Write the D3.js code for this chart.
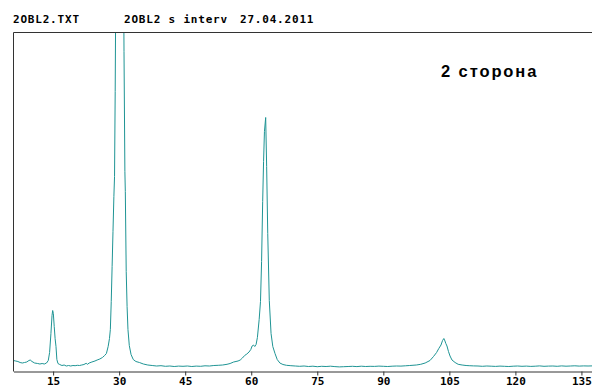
<!DOCTYPE html>
<html>
<head>
<meta charset="utf-8">
<script src="https://cdn.jsdelivr.net/npm/d3@7"></script>
<style>
  body { margin: 0; background: #fff; }
  svg { display: block; }
  .mono { font-family: "DejaVu Sans Mono", monospace; font-weight: bold; font-size: 11px; }
</style>
</head>
<body>
<svg width="592" height="389"></svg>
<script>
const svg = d3.select("svg");

// 2-theta (deg) and intensity (counts)
const twoTheta = [
  6.0, 6.5, 7.0, 7.5, 8.0, 8.5, 9.0, 9.5, 9.8, 10.2, 10.8, 11.5, 12.0, 12.5, 13.0, 13.5, 13.9,
  14.2, 14.5, 14.75, 14.9, 15.05, 15.25, 15.45, 15.65, 15.85, 16.1, 16.5, 17.0, 17.5, 18.0, 18.5,
  19.0, 19.5, 20.0, 20.5, 21.0, 21.5, 22.0, 22.5, 22.8, 23.2, 23.8, 24.5, 25.0, 25.6, 26.2, 26.7,
  27.1, 27.5, 27.8, 28.0, 28.2, 28.4, 28.6, 28.8, 28.95, 29.1, 29.2, 29.5, 29.8, 30.1, 30.4, 30.7,
  31.0, 31.1, 31.3, 31.4, 31.6, 31.8, 32.0, 32.3, 32.7, 33.2, 33.8, 34.6, 35.5, 36.5, 37.5, 38.5,
  39.5, 40.5, 41.5, 42.5, 43.5, 44.5, 45.5, 46.5, 47.5, 48.5, 49.5, 50.5, 51.5, 52.5, 53.5, 54.5,
  55.2, 56.0, 57.0, 57.5, 58.0, 58.5, 59.0, 59.5, 59.9, 60.2, 60.5, 60.8, 61.1, 61.4, 61.8, 62.1,
  62.35, 62.6, 62.8, 63.0, 63.28, 63.5, 63.75, 64.1, 64.5, 64.9, 65.4, 65.9, 66.5, 67.2, 68.0, 69.0,
  70.0, 71.0, 72.0, 73.0, 74.0, 75.0, 76.0, 77.0, 78.0, 79.0, 80.0, 81.0, 82.0, 83.0, 84.0, 85.0,
  86.0, 87.0, 88.0, 89.0, 90.0, 91.0, 92.0, 93.0, 94.0, 95.0, 96.0, 97.5, 98.5, 99.5, 100.6, 101.4,
  102.1, 102.6, 103.1, 103.45, 103.75, 104.0, 104.2, 104.46, 104.8, 105.15, 105.6, 106.3, 107.0, 107.9,
  108.8, 109.5, 110.5, 111.5, 112.5, 113.5, 114.5, 115.5, 116.5, 117.5, 118.5, 119.5,
  120.5, 121.5, 122.5, 123.5, 124.5, 125.5, 126.5, 127.5, 128.5, 129.5, 130.5, 131.5, 132.5, 133.5,
  134.5, 135.5, 136.5, 137.4
];
const counts = [
  110, 105, 100, 90, 85, 90, 95, 110, 115, 100, 85, 80, 75, 80, 75, 85, 110,
  190, 380, 560, 610, 580, 450, 330, 250, 120, 80, 70, 60, 65, 55, 60,
  55, 60, 58, 62, 60, 65, 70, 82, 72, 85, 95, 105, 115, 125, 140, 160,
  180, 250, 330, 420, 700, 1050, 1400, 1750, 1950, 2800, 3600, 6000, 8500, 9500, 8800, 6500,
  4000, 3200, 2000, 1800, 1000, 650, 420, 260, 170, 120, 100, 90, 75, 65, 60, 55,
  58, 52, 55, 50, 54, 52, 55, 50, 54, 52, 57, 55, 60, 62, 65, 72,
  80, 95, 105, 115, 135, 160, 175, 195, 220, 255, 265, 250, 270, 340, 520, 700,
  1100, 1700, 2100, 2400, 2540, 2050, 1380, 710, 380, 250, 180, 120, 85, 70, 62, 58,
  55, 52, 55, 50, 53, 48, 52, 50, 53, 49, 46, 48, 50, 52, 49, 53,
  50, 52, 51, 54, 52, 50, 53, 55, 54, 57, 60, 65, 72, 85, 110, 150,
  190, 230, 265, 310, 330, 305, 280, 255, 200, 155, 115, 90, 72, 65,
  60, 58, 56, 55, 52, 55, 53, 51, 54, 52, 50, 53,
  55, 52, 54, 51, 53, 56, 52, 54, 55, 52, 56, 53, 55, 57,
  54, 56, 55, 56
];
const tickValues = [15, 30, 45, 60, 75, 90, 105, 120, 135];

const headerFile = "2OBL2.TXT";
const headerDesc = "2OBL2 s interv";
const headerDate = "27.04.2011";
const sideLabel = "2 сторона";

const plotLeft = 13.5, plotRight = 592, plotTop = 32.5, plotBottom = 371.5;

const x = d3.scaleLinear().domain([6, 137.4]).range([plotLeft, plotRight]);
const y = d3.scaleLinear().domain([0, 3390]).range([plotBottom, plotTop]);

const data = twoTheta.map((t, i) => ({ t, c: counts[i] }));

// header
svg.append("text").attr("class", "mono").attr("x", 13).attr("y", 23)
    .style("letter-spacing", "0.8px").text(headerFile);
svg.append("text").attr("class", "mono").attr("x", 124).attr("y", 23)
    .style("letter-spacing", "0.8px").text(headerDesc);
svg.append("text").attr("class", "mono").attr("x", 240).attr("y", 23)
    .style("letter-spacing", "0.8px").text(headerDate);

// clip
svg.append("clipPath").attr("id", "plot")
  .append("rect").attr("x", plotLeft).attr("y", plotTop)
    .attr("width", plotRight - plotLeft).attr("height", plotBottom - plotTop);

svg.append("path")
    .datum(data)
    .attr("clip-path", "url(#plot)")
    .attr("fill", "none")
    .attr("stroke", "#1f9494")
    .attr("stroke-width", 1)
    .attr("d", d3.line().x(d => x(d.t)).y(d => y(d.c)));

// frame
const frameColor = "#333";
svg.append("line").attr("x1", plotLeft).attr("x2", plotRight).attr("y1", plotTop).attr("y2", plotTop)
    .attr("stroke", frameColor);
svg.append("line").attr("x1", plotLeft).attr("x2", plotLeft).attr("y1", plotTop).attr("y2", plotBottom)
    .attr("stroke", frameColor);

const xAxis = svg.append("g")
    .attr("transform", `translate(0,${plotBottom})`)
    .call(d3.axisBottom(x).tickValues(tickValues).tickSize(4).tickSizeOuter(0));
xAxis.select(".domain").attr("stroke", frameColor);
xAxis.selectAll(".tick line").attr("stroke", frameColor);
xAxis.selectAll(".tick text")
    .attr("class", "mono")
    .attr("fill", "#000")
    .attr("y", 6);

svg.append("text")
    .attr("x", 441)
    .attr("y", 77)
    .attr("font-family", "Liberation Sans, Arial, sans-serif")
    .attr("font-weight", "bold")
    .attr("font-size", "16.5px")
    .style("letter-spacing", "1.9px")
    .text(sideLabel);
</script>
</body>
</html>
